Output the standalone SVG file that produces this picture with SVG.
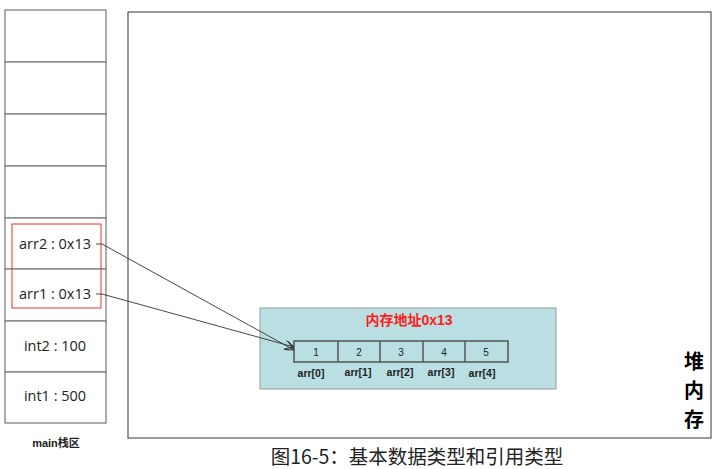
<svg xmlns="http://www.w3.org/2000/svg" width="720" height="469" viewBox="0 0 720 469">
<defs>
<style>
.cell{fill:#fff;stroke:#808080;stroke-width:1.3}
.lbl{font-family:"Open Sans","Noto Sans","Noto Sans CJK SC",sans-serif;font-size:14.5px;fill:#222;text-anchor:middle}
.arr{fill:none;stroke:#555;stroke-width:1.5}
.idx{font-family:"Liberation Sans","Noto Sans CJK SC",sans-serif;font-size:10px;fill:#222;text-anchor:middle}
.sub{font-family:"Liberation Sans","Noto Sans CJK SC",sans-serif;font-size:10.5px;font-weight:bold;fill:#222;text-anchor:middle}
.con{fill:none;stroke:#333;stroke-width:0.9}
</style>
<marker id="ah" viewBox="0 0 10 10" refX="10" refY="5" markerWidth="9" markerHeight="9" markerUnits="userSpaceOnUse" orient="auto">
<path d="M0,0 L10,5 L0,10" fill="none" stroke="#333" stroke-width="1.2"/>
</marker>
</defs>
<rect width="720" height="469" fill="#fff"/>
<g id="heap">
<rect x="128" y="12" width="583" height="426" fill="#fff" stroke="#333" stroke-width="1"/>
<text font-family="Noto Sans CJK SC,sans-serif" font-size="20" font-weight="bold" fill="#000" text-anchor="middle"><tspan x="694" y="369">堆</tspan><tspan x="694" y="398">内</tspan><tspan x="694" y="427">存</tspan></text>
</g>
<g id="stack">
<rect class="cell" x="5" y="10" width="101" height="52"/>
<rect class="cell" x="5" y="62" width="101" height="52"/>
<rect class="cell" x="5" y="114" width="101" height="52"/>
<rect class="cell" x="5" y="166" width="101" height="52"/>
<rect class="cell" x="5" y="218" width="101" height="51"/>
<rect class="cell" x="5" y="269" width="101" height="52"/>
<rect class="cell" x="5" y="321" width="101" height="51"/>
<rect class="cell" x="5" y="372" width="101" height="51"/>
<text class="lbl" x="55" y="249">arr2 : 0x13</text>
<text class="lbl" x="55" y="299">arr1 : 0x13</text>
<text class="lbl" x="55" y="351">int2 : 100</text>
<text class="lbl" x="55" y="401">int1 : 500</text>
<text class="sub" x="56" y="447" style="font-size:11px">main栈区</text>
</g>
<g id="refbox">
<rect x="12" y="224" width="89" height="84" fill="none" stroke="#e83030" stroke-width="1"/>
</g>
<g id="memory">
<rect x="260" y="308" width="296" height="81" fill="#b9dfe2" stroke="#999" stroke-width="1"/>
<text x="409" y="325" font-family="Liberation Sans,Noto Sans CJK SC,sans-serif" font-size="14" font-weight="bold" fill="#ff1a1a" text-anchor="middle">内存地址0x13</text>
<rect class="arr" x="294" y="341" width="214" height="21"/>
<line class="arr" x1="338" y1="341" x2="338" y2="362"/>
<line class="arr" x1="380" y1="341" x2="380" y2="362"/>
<line class="arr" x1="423" y1="341" x2="423" y2="362"/>
<line class="arr" x1="465" y1="341" x2="465" y2="362"/>
<text class="idx" x="316" y="356">1</text>
<text class="idx" x="359" y="356">2</text>
<text class="idx" x="401" y="356">3</text>
<text class="idx" x="444" y="356">4</text>
<text class="idx" x="486" y="356">5</text>
<text class="sub" x="311" y="377">arr[0]</text>
<text class="sub" x="358" y="376">arr[1]</text>
<text class="sub" x="400" y="376">arr[2]</text>
<text class="sub" x="441" y="376">arr[3]</text>
<text class="sub" x="482" y="377">arr[4]</text>
</g>
<g id="connectors">
<path class="con" d="M96,244 L102,244 L294,350" marker-end="url(#ah)"/>
<path class="con" d="M96,294 L102,294 L294,347" marker-end="url(#ah)"/>
</g>
<text x="417" y="464" font-family="Noto Sans CJK SC,sans-serif" font-size="19.5" fill="#222" text-anchor="middle">图16-5：基本数据类型和引用类型</text>
</svg>
